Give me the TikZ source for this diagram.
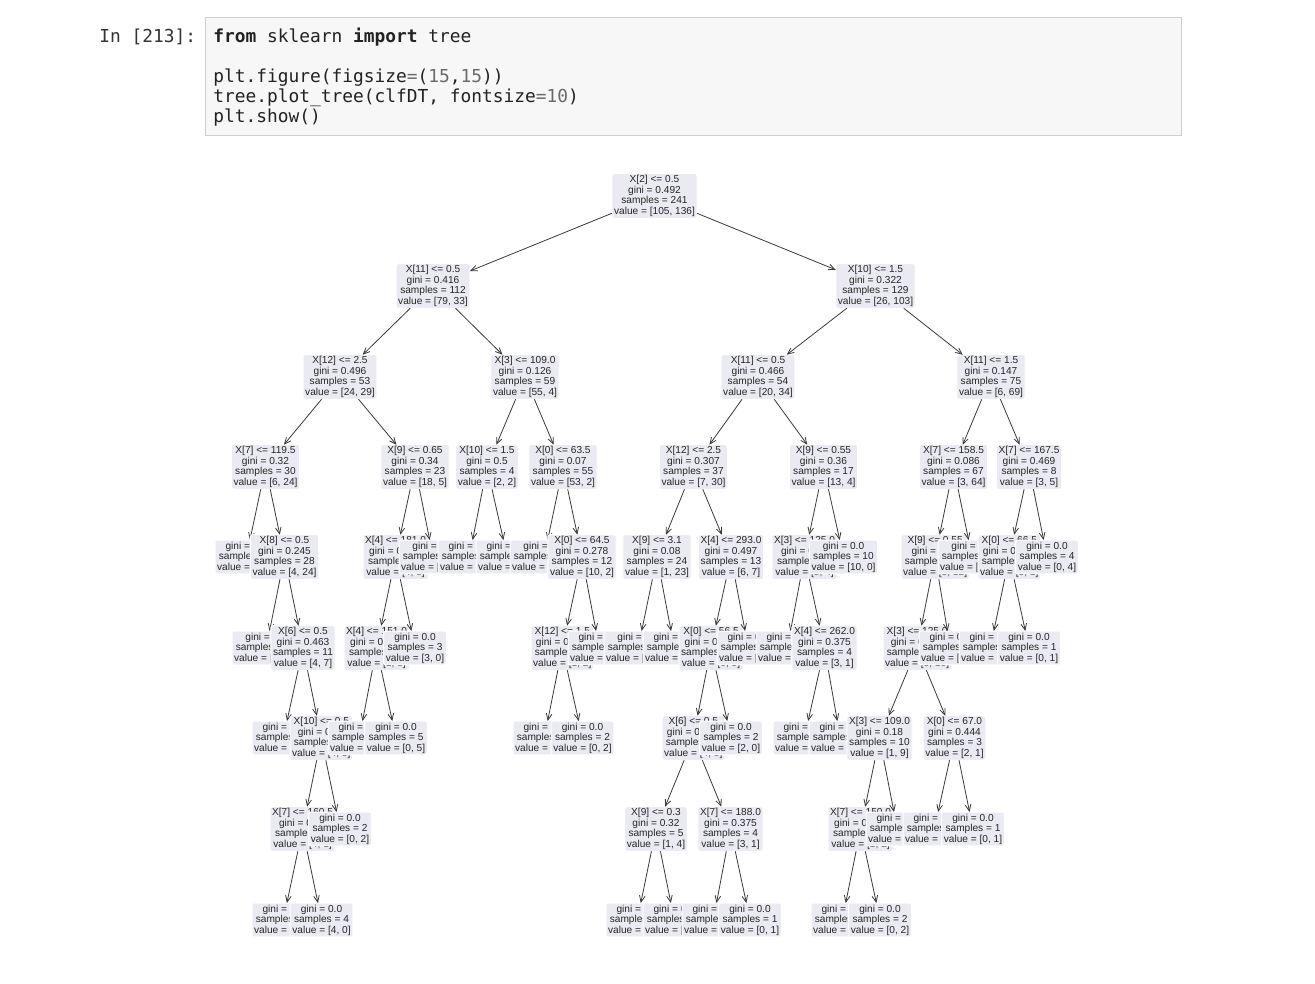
\documentclass[tikz,border=0pt]{standalone}
\usepackage{fontspec}
\usetikzlibrary{arrows.meta}
\newfontfamily\tf{Liberation Sans}
\newfontfamily\cf{DejaVu Sans Mono}
\definecolor{boxbg}{HTML}{EAEAF2}
\definecolor{txt}{HTML}{262626}
\definecolor{linec}{HTML}{3A3A3A}
\definecolor{codebg}{HTML}{F7F7F7}
\definecolor{codeborder}{HTML}{CFCFCF}
\definecolor{codec}{HTML}{222222}
\definecolor{numc}{HTML}{6A6A6A}
\definecolor{opc}{HTML}{6A6A6A}
\definecolor{promptc}{HTML}{333333}
\tikzset{
  nd/.style={fill=boxbg, draw=white, line width=0.75pt, rounded corners=1.2pt,
    inner xsep=1.6pt, inner ysep=1.3pt, outer sep=0pt, align=center,
    font=\tf\fontsize{7.6}{7.9}\selectfont, text=txt},
  ar/.style={draw=linec, line width=0.6pt, -{Straight Barb[length=4.8pt,width=4.2pt]}},
  codetext/.style={anchor=base west, inner sep=0pt, text=codec, font=\cf\fontsize{13.4}{15}\selectfont},
}
\begin{document}
\begin{tikzpicture}[x=0.75pt,y=-0.75pt]
\useasboundingbox[fill=white] (0,0) rectangle (1315,984);
% code cell
\node[codetext, text=promptc] (prompt) at (99,43) {In [213]:};
\draw[fill=codebg, draw=codeborder, line width=0.75pt] (205,18) rectangle (1181,136);
\node[codetext] (c1) at (213,43) {{\bfseries from} sklearn {\bfseries import} tree};
\node[codetext] (c2) at (213,83) {plt.figure(figsize{\color{opc}=}({\color{numc}15},{\color{numc}15}))};
\node[codetext] (c3) at (213,103) {tree.plot\_tree(clfDT, fontsize{\color{opc}=}{\color{numc}10})};
\node[codetext] (c4) at (213,123) {plt.show()};
% tree
\node[nd] (n0) at (654.5,196) {X[2] <= 0.5\\gini = 0.492\\samples = 241\\value = [105, 136]};
\node[nd] (n1) at (433,286) {X[11] <= 0.5\\gini = 0.416\\samples = 112\\value = [79, 33]};
\draw[ar] (n0) -- (n1);
\node[nd] (a) at (340,377) {X[12] <= 2.5\\gini = 0.496\\samples = 53\\value = [24, 29]};
\draw[ar] (n1) -- (a);
\node[nd] (a1) at (265.5,467) {X[7] <= 119.5\\gini = 0.32\\samples = 30\\value = [6, 24]};
\draw[ar] (a) -- (a1);
\node[nd,anchor=west] (a1l) at (215,557) {gini = 0.0\\samples = 2\\value = [2, 0]};
\draw[ar] (a1) -- (a1l);
\node[nd] (a1r) at (284.5,557) {X[8] <= 0.5\\gini = 0.245\\samples = 28\\value = [4, 24]};
\draw[ar] (a1) -- (a1r);
\node[nd,anchor=west] (a1rl) at (232,648) {gini = 0.0\\samples = 17\\value = [0, 17]};
\draw[ar] (a1r) -- (a1rl);
\node[nd] (a1rr) at (303,648) {X[6] <= 0.5\\gini = 0.463\\samples = 11\\value = [4, 7]};
\draw[ar] (a1r) -- (a1rr);
\node[nd,anchor=west] (b6l) at (252,738) {gini = 0.0\\samples = 4\\value = [0, 4]};
\draw[ar] (a1rr) -- (b6l);
\node[nd,anchor=west] (b6r) at (290,738) {X[10] <= 0.5\\gini = 0.49\\samples = 7\\value = [4, 3]};
\draw[ar] (a1rr) -- (b6r);
\node[nd,anchor=west] (b7l) at (270,829) {X[7] <= 160.5\\gini = 0.32\\samples = 5\\value = [4, 1]};
\draw[ar] (b6r) -- (b7l);
\node[nd,anchor=west] (b8l) at (252,920) {gini = 0.0\\samples = 1\\value = [0, 1]};
\draw[ar] (b7l) -- (b8l);
\node[nd] (b8r) at (321.5,920) {gini = 0.0\\samples = 4\\value = [4, 0]};
\draw[ar] (b7l) -- (b8r);
\node[nd] (b7r) at (340,829) {gini = 0.0\\samples = 2\\value = [0, 2]};
\draw[ar] (b6r) -- (b7r);
\node[nd] (a2) at (415,467) {X[9] <= 0.65\\gini = 0.34\\samples = 23\\value = [18, 5]};
\draw[ar] (a) -- (a2);
\node[nd,anchor=west] (a2l) at (363,557) {X[4] <= 181.0\\gini = 0.494\\samples = 9\\value = [4, 5]};
\draw[ar] (a2) -- (a2l);
\node[nd,anchor=west] (a2ll) at (344,648) {X[4] <= 151.0\\gini = 0.278\\samples = 6\\value = [1, 5]};
\draw[ar] (a2l) -- (a2ll);
\node[nd,anchor=west] (c6l) at (328,738) {gini = 0.0\\samples = 1\\value = [1, 0]};
\draw[ar] (a2ll) -- (c6l);
\node[nd] (c6r) at (396,738) {gini = 0.0\\samples = 5\\value = [0, 5]};
\draw[ar] (a2ll) -- (c6r);
\node[nd] (a2lr) at (415,648) {gini = 0.0\\samples = 3\\value = [3, 0]};
\draw[ar] (a2l) -- (a2lr);
\node[nd,anchor=west] (a2r) at (399,557) {gini = 0.0\\samples = 14\\value = [14, 0]};
\draw[ar] (a2) -- (a2r);
\node[nd] (b) at (525,377) {X[3] <= 109.0\\gini = 0.126\\samples = 59\\value = [55, 4]};
\draw[ar] (n1) -- (b);
\node[nd] (b1) at (487,467) {X[10] <= 1.5\\gini = 0.5\\samples = 4\\value = [2, 2]};
\draw[ar] (b) -- (b1);
\node[nd,anchor=west] (b1l) at (438,557) {gini = 0.0\\samples = 2\\value = [2, 0]};
\draw[ar] (b1) -- (b1l);
\node[nd,anchor=west] (b1r) at (476,557) {gini = 0.0\\samples = 2\\value = [0, 2]};
\draw[ar] (b1) -- (b1r);
\node[nd] (b2) at (563,467) {X[0] <= 63.5\\gini = 0.07\\samples = 55\\value = [53, 2]};
\draw[ar] (b) -- (b2);
\node[nd,anchor=west] (b2l) at (510,557) {gini = 0.0\\samples = 43\\value = [43, 0]};
\draw[ar] (b2) -- (b2l);
\node[nd] (b2r) at (582,557) {X[0] <= 64.5\\gini = 0.278\\samples = 12\\value = [10, 2]};
\draw[ar] (b2) -- (b2r);
\node[nd,anchor=west] (b2rl) at (531,648) {X[12] <= 1.5\\gini = 0.444\\samples = 3\\value = [1, 2]};
\draw[ar] (b2r) -- (b2rl);
\node[nd,anchor=west] (d6l) at (513,738) {gini = 0.0\\samples = 1\\value = [1, 0]};
\draw[ar] (b2rl) -- (d6l);
\node[nd] (d6r) at (582.5,738) {gini = 0.0\\samples = 2\\value = [0, 2]};
\draw[ar] (b2rl) -- (d6r);
\node[nd,anchor=west] (b2rr) at (568,648) {gini = 0.0\\samples = 9\\value = [9, 0]};
\draw[ar] (b2r) -- (b2rr);
\node[nd] (n2) at (875.5,286) {X[10] <= 1.5\\gini = 0.322\\samples = 129\\value = [26, 103]};
\draw[ar] (n0) -- (n2);
\node[nd] (c) at (758,377) {X[11] <= 0.5\\gini = 0.466\\samples = 54\\value = [20, 34]};
\draw[ar] (n2) -- (c);
\node[nd] (cc1) at (693.5,467) {X[12] <= 2.5\\gini = 0.307\\samples = 37\\value = [7, 30]};
\draw[ar] (c) -- (cc1);
\node[nd] (c1l) at (657,557) {X[9] <= 3.1\\gini = 0.08\\samples = 24\\value = [1, 23]};
\draw[ar] (cc1) -- (c1l);
\node[nd,anchor=west] (c1ll) at (604,648) {gini = 0.0\\samples = 23\\value = [0, 23]};
\draw[ar] (c1l) -- (c1ll);
\node[nd,anchor=west] (c1lr) at (643,648) {gini = 0.0\\samples = 1\\value = [1, 0]};
\draw[ar] (c1l) -- (c1lr);
\node[nd] (c1r) at (731,557) {X[4] <= 293.0\\gini = 0.497\\samples = 13\\value = [6, 7]};
\draw[ar] (cc1) -- (c1r);
\node[nd,anchor=west] (c1rl) at (679,648) {X[0] <= 56.5\\gini = 0.496\\samples = 11\\value = [6, 5]};
\draw[ar] (c1r) -- (c1rl);
\node[nd,anchor=west] (e6) at (662,738) {X[6] <= 0.5\\gini = 0.494\\samples = 9\\value = [4, 5]};
\draw[ar] (c1rl) -- (e6);
\node[nd] (e7l) at (656,829) {X[9] <= 0.3\\gini = 0.32\\samples = 5\\value = [1, 4]};
\draw[ar] (e6) -- (e7l);
\node[nd,anchor=west] (e8a) at (606,920) {gini = 0.0\\samples = 4\\value = [0, 4]};
\draw[ar] (e7l) -- (e8a);
\node[nd,anchor=west] (e8b) at (643,920) {gini = 0.0\\samples = 1\\value = [1, 0]};
\draw[ar] (e7l) -- (e8b);
\node[nd] (e7r) at (730.5,829) {X[7] <= 188.0\\gini = 0.375\\samples = 4\\value = [3, 1]};
\draw[ar] (e6) -- (e7r);
\node[nd,anchor=west] (e8c) at (682,920) {gini = 0.0\\samples = 3\\value = [3, 0]};
\draw[ar] (e7r) -- (e8c);
\node[nd] (e8d) at (750,920) {gini = 0.0\\samples = 1\\value = [0, 1]};
\draw[ar] (e7r) -- (e8d);
\node[nd] (e6r) at (731,738) {gini = 0.0\\samples = 2\\value = [2, 0]};
\draw[ar] (c1rl) -- (e6r);
\node[nd,anchor=west] (c1rr) at (717,648) {gini = 0.0\\samples = 2\\value = [0, 2]};
\draw[ar] (c1r) -- (c1rr);
\node[nd] (cc2) at (823.5,467) {X[9] <= 0.55\\gini = 0.36\\samples = 17\\value = [13, 4]};
\draw[ar] (c) -- (cc2);
\node[nd,anchor=west] (c2l) at (772,557) {X[3] <= 125.0\\gini = 0.49\\samples = 7\\value = [3, 4]};
\draw[ar] (cc2) -- (c2l);
\node[nd,anchor=west] (c2ll) at (756,648) {gini = 0.0\\samples = 3\\value = [0, 3]};
\draw[ar] (c2l) -- (c2ll);
\node[nd] (c2lr) at (824.5,648) {X[4] <= 262.0\\gini = 0.375\\samples = 4\\value = [3, 1]};
\draw[ar] (c2l) -- (c2lr);
\node[nd,anchor=west] (f6l) at (773,738) {gini = 0.0\\samples = 3\\value = [3, 0]};
\draw[ar] (c2lr) -- (f6l);
\node[nd,anchor=west] (f6r) at (809,738) {gini = 0.0\\samples = 1\\value = [0, 1]};
\draw[ar] (c2lr) -- (f6r);
\node[nd] (c2r) at (843.5,557) {gini = 0.0\\samples = 10\\value = [10, 0]};
\draw[ar] (cc2) -- (c2r);
\node[nd] (d) at (991,377) {X[11] <= 1.5\\gini = 0.147\\samples = 75\\value = [6, 69]};
\draw[ar] (n2) -- (d);
\node[nd] (d1) at (953.5,467) {X[7] <= 158.5\\gini = 0.086\\samples = 67\\value = [3, 64]};
\draw[ar] (d) -- (d1);
\node[nd,anchor=west] (d1l) at (901,557) {X[9] <= 0.55\\gini = 0.32\\samples = 15\\value = [3, 12]};
\draw[ar] (d1) -- (d1l);
\node[nd,anchor=west] (d1ll) at (883,648) {X[3] <= 125.0\\gini = 0.355\\samples = 13\\value = [3, 10]};
\draw[ar] (d1l) -- (d1ll);
\node[nd] (g6l) at (879.5,738) {X[3] <= 109.0\\gini = 0.18\\samples = 10\\value = [1, 9]};
\draw[ar] (d1ll) -- (g6l);
\node[nd,anchor=west] (g7l) at (828,829) {X[7] <= 150.0\\gini = 0.444\\samples = 3\\value = [1, 2]};
\draw[ar] (g6l) -- (g7l);
\node[nd,anchor=west] (g8l) at (811,920) {gini = 0.0\\samples = 1\\value = [1, 0]};
\draw[ar] (g7l) -- (g8l);
\node[nd] (g8r) at (880,920) {gini = 0.0\\samples = 2\\value = [0, 2]};
\draw[ar] (g7l) -- (g8r);
\node[nd,anchor=west] (g7r) at (866,829) {gini = 0.0\\samples = 7\\value = [0, 7]};
\draw[ar] (g6l) -- (g7r);
\node[nd] (g6r) at (954.5,738) {X[0] <= 67.0\\gini = 0.444\\samples = 3\\value = [2, 1]};
\draw[ar] (d1ll) -- (g6r);
\node[nd,anchor=west] (g7a) at (903,829) {gini = 0.0\\samples = 2\\value = [2, 0]};
\draw[ar] (g6r) -- (g7a);
\node[nd] (g7b) at (973,829) {gini = 0.0\\samples = 1\\value = [0, 1]};
\draw[ar] (g6r) -- (g7b);
\node[nd,anchor=west] (d1lr) at (919,648) {gini = 0.0\\samples = 2\\value = [0, 2]};
\draw[ar] (d1l) -- (d1lr);
\node[nd,anchor=west] (d1r) at (938,557) {gini = 0.0\\samples = 52\\value = [0, 52]};
\draw[ar] (d1) -- (d1r);
\node[nd] (d2) at (1029,467) {X[7] <= 167.5\\gini = 0.469\\samples = 8\\value = [3, 5]};
\draw[ar] (d) -- (d2);
\node[nd,anchor=west] (d2l) at (978,557) {X[0] <= 66.5\\gini = 0.375\\samples = 4\\value = [3, 1]};
\draw[ar] (d2) -- (d2l);
\node[nd,anchor=west] (d2ll) at (959,648) {gini = 0.0\\samples = 3\\value = [3, 0]};
\draw[ar] (d2l) -- (d2ll);
\node[nd] (d2lr) at (1029,648) {gini = 0.0\\samples = 1\\value = [0, 1]};
\draw[ar] (d2l) -- (d2lr);
\node[nd] (d2r) at (1047,557) {gini = 0.0\\samples = 4\\value = [0, 4]};
\draw[ar] (d2) -- (d2r);
\end{tikzpicture}
\end{document}
